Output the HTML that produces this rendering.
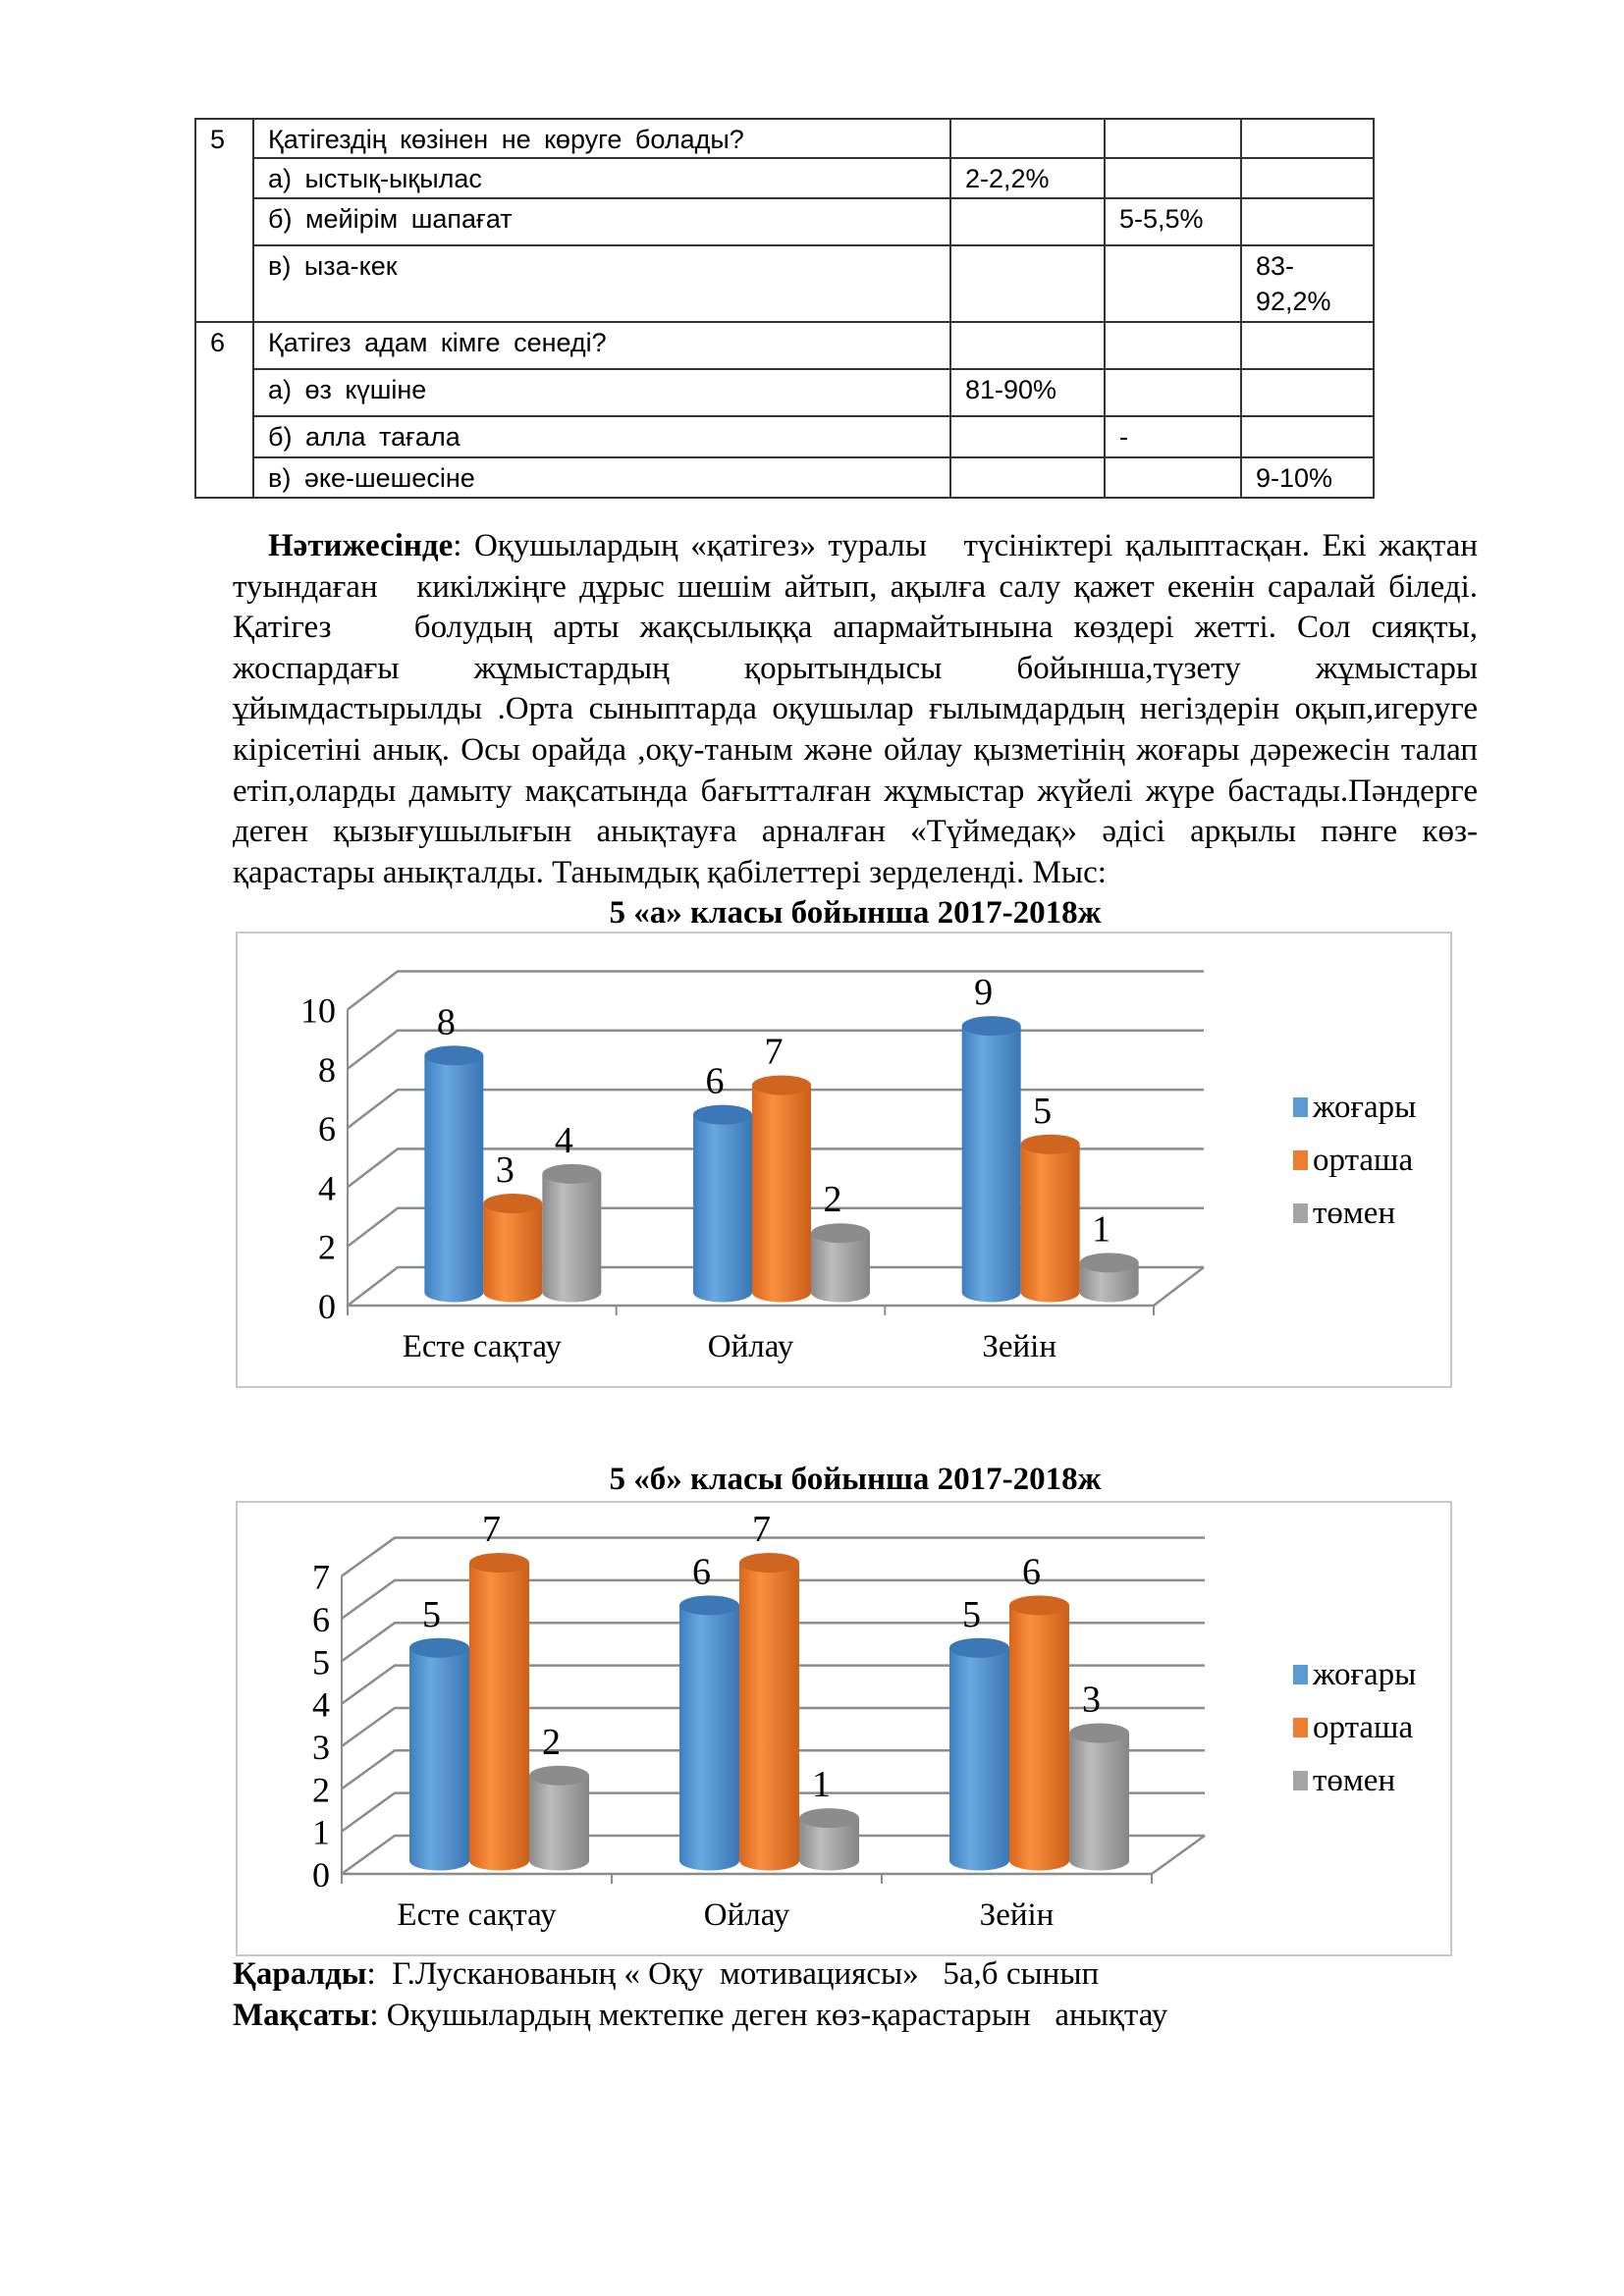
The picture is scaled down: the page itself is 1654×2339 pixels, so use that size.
<!DOCTYPE html>
<html><head><meta charset="utf-8">
<style>
html,body{margin:0;padding:0;background:#fff;}
body{width:1654px;height:2339px;position:relative;overflow:hidden;font-family:"Liberation Serif","Noto Serif CJK SC",serif;color:#000;}
table{position:absolute;left:198px;top:120px;width:1200px;border-collapse:collapse;table-layout:fixed;font-family:"Liberation Sans","Noto Sans CJK SC",sans-serif;font-size:27px;}
td{border:2px solid #333;vertical-align:top;padding:2px 14px 0 14px;word-spacing:6px;line-height:36px;white-space:nowrap;overflow:hidden;}
.p{position:absolute;left:237px;width:1268px;font-size:33px;line-height:41.6px;}
.ln{text-align:justify;text-align-last:justify;white-space:nowrap;height:41.6px;}
.ln.last{text-align-last:left;}
.ttl{position:absolute;left:0;width:1654px;text-align:center;font-weight:bold;font-size:33px;}
svg{position:absolute;left:0;top:0;}
.bt{position:absolute;left:237px;font-size:33px;}
</style></head>
<body>
<table>
<colgroup><col style="width:59px"><col style="width:710px"><col style="width:157px"><col style="width:139px"><col style="width:135px"></colgroup>
<tr style="height:40px"><td rowspan="4" style="border-bottom:2px solid #333">5</td><td>Қатігездің  көзінен  не  көруге  болады?</td><td></td><td></td><td></td></tr>
<tr style="height:41px"><td>а)  ыстық-ықылас</td><td>2-2,2%</td><td></td><td></td></tr>
<tr style="height:48px"><td>б)  мейірім  шапағат</td><td></td><td>5-5,5%</td><td></td></tr>
<tr style="height:78px"><td>в)  ыза-кек</td><td></td><td></td><td>83-<br>92,2%</td></tr>
<tr style="height:48px"><td rowspan="4">6</td><td>Қатігез  адам  кімге  сенеді?</td><td></td><td></td><td></td></tr>
<tr style="height:48px"><td>а)  өз  күшіне</td><td>81-90%</td><td></td><td></td></tr>
<tr style="height:42px"><td>б)  алла  тағала</td><td></td><td>-</td><td></td></tr>
<tr style="height:41px"><td>в)  әке-шешесіне</td><td></td><td></td><td>9-10%</td></tr>
</table>

<div class="p" style="top:536px">
<div class="ln" style="padding-left:36px"><b>Нәтижесінде</b>: Оқушылардың «қатігез» туралы &nbsp; түсініктері қалыптасқан. Екі жақтан</div>
<div class="ln">туындаған &nbsp; кикілжіңге дұрыс шешім айтып, ақылға салу қажет екенін саралай біледі.</div>
<div class="ln">Қатігез &nbsp;&nbsp; болудың арты жақсылыққа апармайтынына көздері жетті. Сол сияқты,</div>
<div class="ln">жоспардағы жұмыстардың қорытындысы бойынша,түзету жұмыстары</div>
<div class="ln">ұйымдастырылды .Орта сыныптарда оқушылар ғылымдардың негіздерін оқып,игеруге</div>
<div class="ln">кірісетіні анық. Осы орайда ,оқу-таным және ойлау қызметінің жоғары дәрежесін талап</div>
<div class="ln">етіп,оларды дамыту мақсатында бағытталған жұмыстар жүйелі жүре бастады.Пәндерге</div>
<div class="ln">деген қызығушылығын анықтауға арналған «Түймедақ» әдісі арқылы пәнге көз-</div>
<div class="ln last">қарастары анықталды. Танымдық қабілеттері зерделенді. Мыс:</div>
</div>

<div class="ttl" style="top:912px;left:44px">5 «а» класы бойынша 2017-2018ж</div>
<div class="ttl" style="top:1489px;left:44px">5 «б» класы бойынша 2017-2018ж</div>

<svg id="chart" width="1654" height="2339">
<defs>
<linearGradient id="gb" x1="0" x2="1"><stop offset="0" stop-color="#3f7fc0"/><stop offset="0.35" stop-color="#6aa8e0"/><stop offset="1" stop-color="#3a76b3"/></linearGradient>
<linearGradient id="go" x1="0" x2="1"><stop offset="0" stop-color="#d9661c"/><stop offset="0.35" stop-color="#f9903f"/><stop offset="1" stop-color="#cc5f19"/></linearGradient>
<linearGradient id="gg" x1="0" x2="1"><stop offset="0" stop-color="#8a8a8a"/><stop offset="0.35" stop-color="#bdbdbd"/><stop offset="1" stop-color="#858585"/></linearGradient>
</defs>
</svg>

<div class="bt" style="top:1993px"><b>Қаралды</b>: &nbsp;Г.Лусканованың « Оқу &nbsp;мотивациясы» &nbsp; 5а,б сынып</div>
<div class="bt" style="top:2035px"><b>Мақсаты</b>: Оқушылардың мектепке деген көз-қарастарын &nbsp; анықтау</div>

<script>
const categories = ["Есте сақтау", "Ойлау", "Зейін"];
const seriesNames = ["жоғары", "орташа", "төмен"];
const chartAHigh = [8, 6, 9];
const chartAMid = [3, 7, 5];
const chartALow = [4, 2, 1];
const chartATicks = [0, 2, 4, 6, 8, 10];
const chartBHigh = [5, 6, 5];
const chartBMid = [7, 7, 6];
const chartBLow = [2, 1, 3];
const chartBTicks = [0, 1, 2, 3, 4, 5, 6, 7];

const NS = "http://www.w3.org/2000/svg";
const svg = document.getElementById('chart');
const fills = ["url(#gb)", "url(#go)", "url(#gg)"];
const tops = ["#3b78b5", "#d0651f", "#8c8c8c"];
const legendColors = ["#5B9BD5", "#ED7D31", "#A5A5A5"];

function mk(tag, attrs, parent) {
  const e = document.createElementNS(NS, tag);
  for (const k in attrs) e.setAttribute(k, attrs[k]);
  (parent || svg).appendChild(e);
  return e;
}

function drawChart(cfg) {
  const g = mk('g', {});
  
  
  mk('rect', {x: cfg.fx, y: cfg.fy, width: cfg.fw, height: cfg.fh, fill: '#fff', stroke: '#c8c8c8', 'stroke-width': 2}, g);
  const maxV = cfg.ticks[cfg.ticks.length - 1];
  const yScale = v => cfg.y0 - v * cfg.unit;
  const dx = cfg.dx, dy = cfg.dy;
  cfg.ticks.forEach(t => {
    const y = yScale(t);
    const gl = mk('polyline', {points: `${cfg.x0},${y} ${cfg.x0 + dx},${y - dy} ${cfg.x1 + dx},${y - dy}`, fill: 'none', stroke: '#8c8c8c', 'stroke-width': 2.5}, g);
    
    
    const tl = mk('text', {x: cfg.x0 - 12, y: y + 13, 'text-anchor': 'end', 'font-size': 36, 'font-family': 'Liberation Serif, serif'}, g);
    tl.textContent = t;
    
    
  });
  mk('line', {x1: cfg.x0, y1: yScale(0), x2: cfg.x0, y2: yScale(maxV), stroke: '#8c8c8c', 'stroke-width': 2}, g);
  mk('line', {x1: cfg.x0, y1: yScale(0), x2: cfg.x1, y2: yScale(0), stroke: '#8c8c8c', 'stroke-width': 2.5}, g);
  mk('line', {x1: cfg.x1, y1: yScale(0), x2: cfg.x1 + dx, y2: yScale(0) - dy, stroke: '#8c8c8c', 'stroke-width': 2.5}, g);
  const cw = (cfg.x1 - cfg.x0) / categories.length;
  for (let i = 0; i <= categories.length; i++) {
    mk('line', {x1: cfg.x0 + i * cw, y1: yScale(0), x2: cfg.x0 + i * cw, y2: yScale(0) + 10, stroke: '#8c8c8c', 'stroke-width': 2}, g);
  }
  categories.forEach((c, i) => {
    const t = mk('text', {x: cfg.x0 + (i + 0.5) * cw, y: yScale(0) + 52, 'text-anchor': 'middle', 'font-size': 33, 'font-family': 'Liberation Serif, serif'}, g);
    t.textContent = c;
    
    
  });
  const bw = cfg.bw, ry = 10;
  const base = yScale(0) - dy / 2 + 6;
  cfg.series.forEach((vals, s) => {
    vals.forEach((v, i) => {
      const cx = cfg.x0 + (i + 0.5) * cw + dx / 2 + (s - 1) * bw + cfg.shift;
      const top = base - v * cfg.unit;
      const bg = mk('g', {}, g);
      
      
      mk('ellipse', {cx: cx, cy: base, rx: bw / 2, ry: ry, fill: fills[s]}, bg);
      mk('rect', {x: cx - bw / 2, y: top, width: bw, height: base - top, fill: fills[s]}, bg);
      mk('ellipse', {cx: cx, cy: top, rx: bw / 2, ry: ry, fill: tops[s]}, bg);
      const lb = mk('text', {x: cx - 8, y: top - 22, 'text-anchor': 'middle', 'font-size': 38, 'font-family': 'Liberation Serif, serif'}, g);
      lb.textContent = v;
      
      
    });
  });
  seriesNames.forEach((n, s) => {
    const y = cfg.ly + s * 54;
    const sq = mk('rect', {x: 1317, y: y - 20, width: 15, height: 20, fill: legendColors[s]}, g);
    
    
    const t = mk('text', {x: 1337, y: y, 'font-size': 33, 'font-family': 'Liberation Serif, serif'}, g);
    t.textContent = n;
    
    
  });
}

drawChart({name: 'chart-5a', fx: 241, fy: 950, fw: 1237, fh: 463, x0: 354, x1: 1175, y0: 1330, unit: 30.15,
  dx: 51, dy: 39, bw: 60, shift: 6, ticks: chartATicks, series: [chartAHigh, chartAMid, chartALow], ly: 1138});
drawChart({name: 'chart-5b', fx: 241, fy: 1530, fw: 1237, fh: 462, x0: 348, x1: 1173, y0: 1909, unit: 43.35,
  dx: 54, dy: 39, bw: 61, shift: -4, ticks: chartBTicks, series: [chartBHigh, chartBMid, chartBLow], ly: 1716});
</script>
</body></html>
